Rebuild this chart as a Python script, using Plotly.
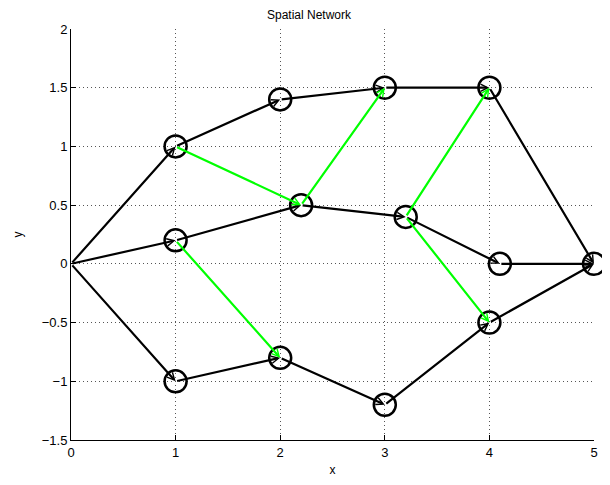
import plotly.graph_objects as go

node_x = [0, 1, 1, 1, 2, 2.2, 2, 3, 3.2, 3, 4, 4.1, 4, 5]
node_y = [0, 1, 0.2, -1, 1.4, 0.5, -0.8, 1.5, 0.4, -1.2, 1.5, 0, -0.5, 0]
black_src = [0, 0, 0, 1, 4, 7, 10, 2, 5, 8, 11, 3, 6, 9, 12]
black_dst = [1, 2, 3, 4, 7, 10, 13, 5, 8, 11, 13, 6, 9, 12, 13]
green_src = [1, 5, 8, 8, 2]
green_dst = [5, 7, 10, 12, 6]
x_ticks = [0, 1, 2, 3, 4, 5]
y_ticks = [-1.5, -1, -0.5, 0, 0.5, 1, 1.5, 2]

fig = go.Figure()

fig.add_trace(go.Scatter(
    x=node_x[1:], y=node_y[1:], mode="markers",
    marker=dict(size=22, color="rgba(0,0,0,0)", line=dict(color="black", width=2.5)),
    hoverinfo="skip", showlegend=False, cliponaxis=False,
))

anns = []
def add_edges(src, dst, color):
    for s, d in zip(src, dst):
        anns.append(dict(
            x=node_x[d], y=node_y[d], ax=node_x[s], ay=node_y[s],
            xref="x", yref="y", axref="x", ayref="y",
            text="", showarrow=True, arrowhead=5, arrowsize=0.65,
            arrowwidth=2.2, arrowcolor=color, standoff=0, startstandoff=0,
        ))

add_edges(black_src, black_dst, "black")
add_edges(green_src, green_dst, "#00ff00")

fig.update_layout(
    width=602, height=469,
    margin=dict(l=63, r=16, t=21, b=37, autoexpand=False),
    paper_bgcolor="white", plot_bgcolor="white",
    font=dict(family="Liberation Sans, Arial, sans-serif", size=13, color="black"),
    title=dict(text="Spatial Network", x=0.5, xanchor="center", y=1, yanchor="top",
               pad=dict(t=3), font=dict(size=12)),
    annotations=anns,
    showlegend=False,
)
fig.update_xaxes(
    range=[0, 5], tickvals=x_ticks, showgrid=True, gridcolor="#555", griddash="1px,3px",
    gridwidth=1, zeroline=False, showline=True, linecolor="black", linewidth=1,
    ticks="inside", ticklen=5, tickcolor="black", automargin=False,
    title=dict(text="x", font=dict(size=12), standoff=8),
)
fig.update_yaxes(
    range=[-1.5, 2], tickvals=y_ticks, showgrid=True, gridcolor="#555", griddash="1px,3px",
    gridwidth=1, zeroline=False, showline=True, linecolor="black", linewidth=1,
    ticks="inside", ticklen=5, tickcolor="black", automargin=False,
    title=dict(text="y", font=dict(size=12), standoff=16),
)

fig.write_html("out.html", config={"responsive": False})
